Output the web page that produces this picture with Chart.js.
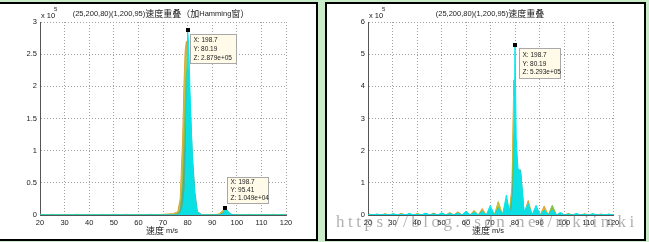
<!DOCTYPE html>
<html><head><meta charset="utf-8">
<script src="https://cdn.jsdelivr.net/npm/chart.js@4"></script>
<style>
body{margin:0;background:#c8ebc8;width:649px;height:242px;overflow:hidden;position:relative}
.panel{position:absolute;top:2px;background:#fff;border:2px solid #000}
#p1{left:-2px;width:316px;height:235px}
#p2{left:325px;width:317px;height:235px}
canvas{display:block}
#wm{position:absolute;left:336px;top:213px;font:17px 'Liberation Serif',serif;letter-spacing:3.5px;color:rgba(100,100,100,.5);white-space:nowrap;line-height:17px}
</style></head>
<body>
<div class="panel" id="p1"><canvas id="left" width="316" height="235"></canvas></div>
<div class="panel" id="p2"><canvas id="right" width="317" height="235"></canvas></div>
<div id="wm">https://blog.csdn.net/mkiimki</div>
<script>
// values are in units of 1e5 (the "x 10^5" exponent label)
const leftSpeeds = [20, 25, 30, 35, 40, 45, 50, 55, 60, 65, 70, 74, 76, 77, 78, 78.5, 79, 79.5, 80, 80.5, 81, 82, 83, 84, 86, 90, 92, 93, 94, 95, 95.4, 96, 97, 98, 100, 105, 110, 115, 120];
const leftOrange = [0, .01, 0, 0, .01, 0, 0, .01, 0, 0, .01, .02, .05, .25, 1.2, 2.0, 2.55, 2.7, 2.1, 1.3, .5, .1, .02, 0, 0, 0, .01, .02, .06, .09, .07, .03, .01, 0, 0, .01, 0, .01, 0];
const leftYellow = [0, 0, .01, 0, 0, .01, 0, 0, .01, 0, 0, .01, .03, .15, .9, 1.6, 2.3, 2.5, 2.2, 1.5, .8, .2, .05, 0, 0, .01, 0, .01, .04, .07, .06, .03, .01, 0, .01, 0, .01, 0, 0];
const leftGreen = [.01, 0, 0, .01, 0, 0, .01, 0, 0, .01, 0, 0, .02, .08, .5, 1.1, 1.7, 2.2, 2.3, 1.8, 1.1, .4, .1, .02, 0, 0, .01, 0, .03, .06, .08, .05, .02, 0, 0, 0, 0, 0, .01];
const leftTeal = [0, 0, 0, 0, 0, 0, 0, 0, 0, 0, 0, 0, .01, .05, .3, .7, 1.1, 1.6, 2.3, 2.2, 1.7, .9, .35, .05, 0, 0, 0, 0, .02, .05, .09, .07, .03, .01, 0, 0, 0, 0, 0];
const leftCyan = [0, 0, 0, 0, 0, 0, 0, 0, 0, 0, 0, 0, 0, .02, .1, .2, .4, 1.0, 2.879, 2.6, 1.9, .8, .25, .03, 0, 0, 0, 0, .01, .04, .1049, .08, .02, 0, 0, 0, 0, 0, 0];

const rightSpeeds = [20, 20.4, 22, 23.7, 25.3, 27, 28.7, 30.3, 32, 33.6, 35.3, 36.9, 38.6, 40.2, 41.9, 43.5, 45.2, 46.8, 48.5, 50.1, 51.8, 53.4, 55, 56.7, 58.4, 60, 61.7, 63.3, 65, 66.6, 68.3, 69.9, 71.6, 73.2, 74.9, 76.5, 77.8, 78.8, 79.5, 80, 80.5, 81.2, 82.3, 83.7, 85.4, 87, 88.6, 90.3, 91.9, 93.6, 95.2, 96.9, 98.5, 100.2, 101.8, 103.5, 105.1, 106.8, 108.4, 110.1, 111.7, 113.4, 115, 116.7, 118.3, 120];
const rightOrange = [0, .03, 0, .02, 0, .03, 0, .03, 0, .05, 0, .03, 0, .03, 0, .04, 0, .06, 0, .05, 0, .06, 0, .1, 0, .08, 0, .11, 0, .2, 0, .2, 0, .4, 0, .45, .15, .9, 4.2, 2.0, .7, .35, .2, .03, .45, 0, .2, 0, .28, 0, .2, 0, .05, 0, .05, 0, .03, 0, .03, 0, .03, 0, .03, 0, .02, 0];
const rightYellow = [0, .02, 0, .02, 0, .04, 0, .03, 0, .03, 0, .03, 0, .05, 0, .04, 0, .04, 0, .05, 0, .08, 0, .07, 0, .08, 0, .15, 0, .14, 0, .2, 0, .42, 0, .45, .12, .8, 3.7, 2.2, .9, .5, .25, .03, .3, 0, .2, 0, .18, 0, .25, 0, .05, 0, .03, 0, .03, 0, .04, 0, .03, 0, .02, 0, .02, 0];
const rightGreen = [0, .02, 0, .02, 0, .02, 0, .02, 0, .03, 0, .03, 0, .03, 0, .04, 0, .04, 0, .04, 0, .05, 0, .06, 0, .07, 0, .09, 0, .12, 0, .18, 0, .25, 0, .35, .1, .6, 2.5, 2.6, 1.2, .8, .5, .05, .25, 0, .18, 0, .16, 0, .3, 0, .05, 0, .03, 0, .03, 0, .02, 0, .02, 0, .02, 0, .02, 0];
const rightTeal = [0, .01, 0, .01, 0, .02, 0, .02, 0, .02, 0, .02, 0, .02, 0, .03, 0, .03, 0, .03, 0, .04, 0, .05, 0, .06, 0, .07, 0, .1, 0, .15, 0, .2, 0, .3, .05, .4, 1.5, 2.8, 1.8, 1.4, 1.4, .1, .22, 0, .15, 0, .14, 0, .15, 0, .04, 0, .02, 0, .02, 0, .02, 0, .02, 0, .01, 0, .01, 0];
const rightCyan = [0, .015, 0, .03, 0, .02, 0, .04, 0, .025, 0, .05, 0, .025, 0, .06, 0, .03, 0, .07, 0, .04, 0, .05, 0, .12, 0, .08, 0, .1, 0, .3, 0, .2, 0, .62, .05, .2, .9, 5.293, 2.4, 1.45, 1.3, .1, .35, 0, .3, 0, .15, 0, .15, 0, .08, 0, .025, 0, .05, 0, .02, 0, .04, 0, .015, 0, .03, 0];

const leftTitle = '(25,200,80)(1,200,95)速度重叠（加Hamming窗）';
const rightTitle = '(25,200,80)(1,200,95)速度重叠';
const xTitle = '速度 m/s';
const leftTipMain = ['X: 198.7', 'Y: 80.19', 'Z: 2.879e+05'];
const leftTipSmall = ['X: 198.7', 'Y: 95.41', 'Z: 1.049e+04'];
const rightTip = ['X: 198.7', 'Y: 80.19', 'Z: 5.293e+05'];

const LATIN = "'Liberation Sans', Arial, sans-serif";
const CJK = "'Noto Sans CJK SC', sans-serif";
const colors = ['#e0a030', '#c8c23c', '#7cc04a', '#4aaea0', '#00e6ee'];

function drawMixed(ctx, text, cx, cy, latinSize, cjkSize) {
  const runs = text.match(/[\x00-\x7f]+|[^\x00-\x7f]+/g).map(r => {
    const font = /[^\x00-\x7f]/.test(r) ? cjkSize + 'px ' + CJK : latinSize + 'px ' + LATIN;
    ctx.font = font;
    return {r, font, w: ctx.measureText(r).width};
  });
  let x = cx - runs.reduce((s, o) => s + o.w, 0) / 2;
  ctx.textAlign = 'left';
  ctx.textBaseline = 'middle';
  runs.forEach(o => { ctx.font = o.font; ctx.fillText(o.r, x, cy); x += o.w; });
}

const decor = {
  id: 'decor',
  afterDatasetsDraw(chart, args, o) {
    const {ctx, scales: {x, y}} = chart;
    ctx.save();
    ctx.fillStyle = '#1a1a1a';
    drawMixed(ctx, o.title, o.titleX, 10, 7.5, 9);
    drawMixed(ctx, xTitle, o.labelX, 227, 7.5, 9);
    ctx.font = '7.5px ' + LATIN;
    ctx.textAlign = 'left';
    ctx.fillText('x 10', x.left + 1, 12);
    ctx.font = '6px ' + LATIN;
    ctx.fillText('5', x.left + 14, 5);
    o.tips.forEach(t => {
      const px = x.getPixelForValue(t.xs[t.i]);
      const py = y.getPixelForValue(t.ys[t.i]);
      ctx.fillStyle = '#000';
      ctx.fillRect(Math.round(px) - 2, Math.round(py) - 2, 4, 4);
      const bx = Math.round(px + t.dx) + 0.5, by = Math.round(py + t.dy) + 0.5;
      ctx.fillStyle = '#fffbe8';
      ctx.strokeStyle = '#a8a8a8';
      ctx.lineWidth = 1;
      ctx.fillRect(bx, by, t.w, t.h);
      ctx.strokeRect(bx, by, t.w, t.h);
      ctx.fillStyle = '#1a1a1a';
      ctx.font = '6.5px ' + LATIN;
      ctx.textBaseline = 'middle';
      t.lines.forEach((s, k) => ctx.fillText(s, bx + 3, by + t.top + k * t.gap));
    });
    ctx.restore();
  }
};

function makeChart(id, speeds, series, yMax, yStep, yWidth, rightPad, extra) {
  const axisFont = {size: 7.5, family: LATIN};
  return new Chart(document.getElementById(id), {
    type: 'line',
    data: {
      datasets: series.map((s, k) => ({
        data: speeds.map((v, i) => ({x: v, y: s[i]})),
        borderColor: colors[k],
        backgroundColor: colors[k] + 'e0',
        fill: 'origin',
        order: series.length - k  // later series drawn in front
      }))
    },
    options: {
      responsive: false,
      animation: false,
      devicePixelRatio: 1,
      layout: {padding: {left: 0, top: 18, right: rightPad, bottom: 0}},
      elements: {point: {radius: 0}, line: {borderWidth: 1, tension: 0}},
      plugins: {legend: {display: false}, tooltip: {enabled: false}, decor: extra},
      scales: {
        x: {
          type: 'linear', min: 20, max: 120,
          ticks: {stepSize: 10, padding: 3, font: axisFont, color: '#1a1a1a', maxRotation: 0, autoSkip: false},
          grid: {color: '#a0a0a0', drawTicks: false},
          border: {color: '#555', width: 1, dash: [1, 2]},
          afterFit(s) { s.height = 24; }
        },
        y: {
          min: 0, max: yMax,
          ticks: {stepSize: yStep, padding: 3, font: axisFont, color: '#1a1a1a', callback: v => String(v)},
          grid: {color: '#a0a0a0', drawTicks: false},
          border: {color: '#555', width: 1, dash: [1, 2]},
          afterFit(s) { s.width = yWidth; }
        }
      }
    },
    plugins: [decor]
  });
}

makeChart('left', leftSpeeds, [leftOrange, leftYellow, leftGreen, leftTeal, leftCyan], 3, 0.5, 40, 30, {
  title: leftTitle, titleX: 161, labelX: 162,
  tips: [
    {xs: leftSpeeds, ys: leftCyan, i: 18, lines: leftTipMain, dx: 2.5, dy: 4, w: 46, h: 29, top: 5.5, gap: 9},
    {xs: leftSpeeds, ys: leftCyan, i: 30, lines: leftTipSmall, dx: 1.5, dy: -31, w: 41, h: 26, top: 5, gap: 8}
  ]
});

makeChart('right', rightSpeeds, [rightOrange, rightYellow, rightGreen, rightTeal, rightCyan], 6, 1, 41, 31, {
  title: rightTitle, titleX: 163, labelX: 161,
  tips: [
    {xs: rightSpeeds, ys: rightCyan, i: 39, lines: rightTip, dx: 3.5, dy: 3.5, w: 41, h: 30, top: 7, gap: 8.5}
  ]
});
</script>
</body></html>
